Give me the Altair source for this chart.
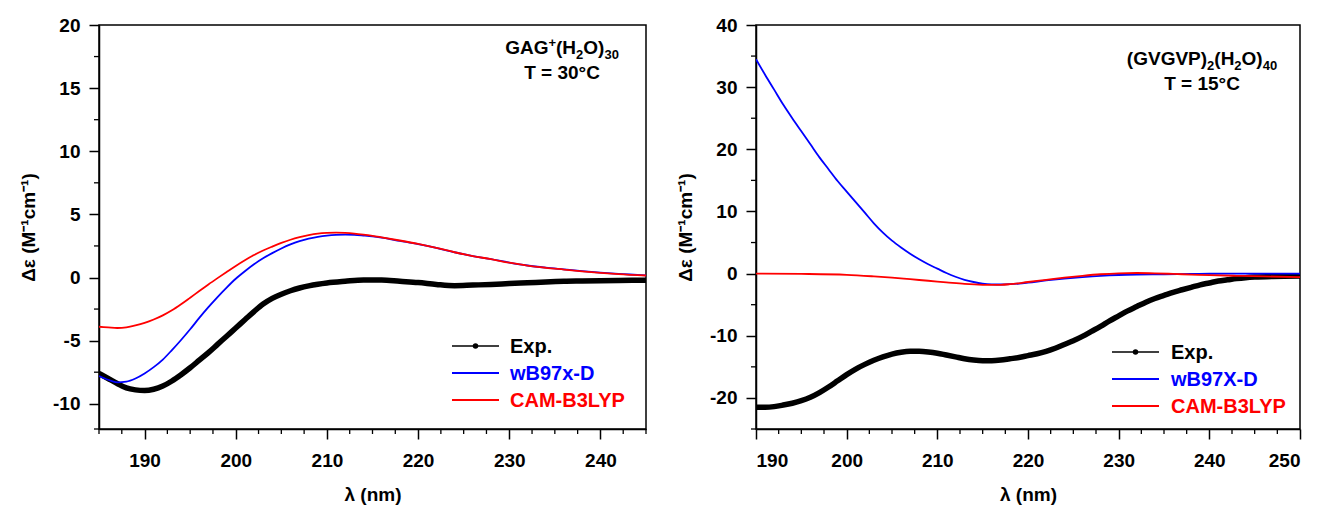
import altair as alt
import pandas as pd

# ---------------- Left panel: GAG+(H2O)30, T = 30°C ----------------
L_exp_x = [185, 186, 187, 188, 189, 190, 191, 192, 193, 194, 195, 196, 197, 198, 199, 200,
           201, 202, 203, 204, 205, 206, 207, 208, 209, 210, 212, 214, 216, 218, 220, 222,
           224, 226, 228, 230, 232, 234, 236, 238, 240, 242, 245]
L_exp_y = [-7.6, -8.0, -8.4, -8.75, -8.9, -8.95, -8.85, -8.6, -8.2, -7.7, -7.15, -6.55, -5.95,
           -5.3, -4.65, -4.0, -3.35, -2.7, -2.1, -1.65, -1.32, -1.05, -0.83, -0.66, -0.53, -0.43,
           -0.3, -0.2, -0.2, -0.3, -0.4, -0.55, -0.65, -0.6, -0.55, -0.48, -0.42, -0.35, -0.3,
           -0.28, -0.26, -0.24, -0.21]

L_wb_x = [185, 186, 187, 188, 189, 190, 191, 192, 193, 194, 195, 196, 197, 198, 199, 200,
          201, 202, 203, 204, 205, 206, 207, 208, 209, 210, 211, 212, 213, 214, 215, 216,
          218, 220, 222, 224, 226, 228, 230, 232, 234, 236, 238, 240, 242, 245]
L_wb_y = [-7.8, -8.1, -8.3, -8.25, -8.0, -7.6, -7.1, -6.5, -5.75, -4.95, -4.1, -3.2, -2.35,
          -1.55, -0.8, -0.1, 0.5, 1.05, 1.52, 1.93, 2.3, 2.62, 2.88, 3.08, 3.22, 3.32, 3.38,
          3.4, 3.38, 3.32, 3.25, 3.15, 2.9, 2.65, 2.35, 2.0, 1.7, 1.45, 1.18, 0.95, 0.78,
          0.64, 0.5, 0.38, 0.28, 0.17]

L_cam_x = [185, 186, 187, 188, 189, 190, 191, 192, 193, 194, 195, 196, 197, 198, 199, 200,
           201, 202, 203, 204, 205, 206, 207, 208, 209, 210, 211, 212, 213, 214, 215, 216,
           218, 220, 222, 224, 226, 228, 230, 232, 234, 236, 238, 240, 242, 245]
L_cam_y = [-3.9, -3.95, -4.0, -3.95, -3.8, -3.6, -3.33, -3.0, -2.6, -2.12, -1.6, -1.07, -0.55,
           -0.05, 0.44, 0.92, 1.37, 1.78, 2.14, 2.45, 2.74, 2.99, 3.19, 3.35, 3.47, 3.53, 3.55,
           3.53, 3.48, 3.4, 3.3, 3.18, 2.93, 2.66, 2.35, 2.0, 1.7, 1.45, 1.17, 0.94, 0.77,
           0.63, 0.49, 0.37, 0.27, 0.16]

# ---------------- Right panel: (GVGVP)2(H2O)40, T = 15°C ----------------
R_exp_x = [190, 191, 192, 193, 194, 195, 196, 197, 198, 199, 200, 201, 202, 203, 204, 205,
           206, 207, 208, 209, 210, 211, 212, 213, 214, 215, 216, 217, 218, 219, 220, 221,
           222, 223, 224, 225, 226, 227, 228, 229, 230, 231, 232, 233, 234, 235, 236, 237,
           238, 239, 240, 241, 242, 243, 244, 245, 247, 250]
R_exp_y = [-21.5, -21.5, -21.4, -21.15, -20.85, -20.45, -19.9, -19.15, -18.25, -17.25, -16.25,
           -15.35, -14.6, -13.95, -13.4, -12.95, -12.65, -12.5, -12.5, -12.6, -12.8, -13.1,
           -13.4, -13.7, -13.9, -14.0, -14.0, -13.9, -13.7, -13.5, -13.2, -12.9, -12.5, -12.0,
           -11.4, -10.8, -10.1, -9.3, -8.5, -7.6, -6.8, -6.0, -5.3, -4.6, -4.0, -3.5, -3.0,
           -2.6, -2.2, -1.8, -1.5, -1.2, -1.0, -0.8, -0.65, -0.55, -0.45, -0.4]

R_wb_x = [190, 191, 192, 193, 194, 195, 196, 197, 198, 199, 200, 201, 202, 203, 204, 205,
          206, 207, 208, 209, 210, 211, 212, 213, 214, 215, 216, 217, 218, 219, 220, 222,
          224, 226, 228, 230, 232, 235, 238, 240, 245, 250]
R_wb_y = [34.5, 32.0, 29.6, 27.2, 25.0, 22.9, 20.8, 18.7, 16.8, 14.9, 13.2, 11.5, 9.8, 8.1,
          6.6, 5.3, 4.2, 3.2, 2.3, 1.5, 0.8, 0.1, -0.5, -1.0, -1.35, -1.6, -1.72, -1.75, -1.7,
          -1.6, -1.45, -1.1, -0.8, -0.55, -0.35, -0.22, -0.15, -0.1, -0.05, -0.02, 0.0, 0.0]

R_cam_x = [190, 195, 200, 203, 205, 207, 209, 211, 213, 215, 216, 217, 218, 220, 222, 224,
           226, 228, 230, 232, 234, 236, 238, 240, 243, 246, 250]
R_cam_y = [0.0, -0.05, -0.2, -0.45, -0.65, -0.9, -1.15, -1.4, -1.65, -1.8, -1.82, -1.8, -1.7,
           -1.35, -1.0, -0.65, -0.35, -0.1, 0.05, 0.1, 0.05, -0.05, -0.15, -0.25, -0.35,
           -0.45, -0.55]

# axes
L_xdomain = [185, 245]
L_ydomain = [-12, 20]
L_xticks = [190, 200, 210, 220, 230, 240]
L_xminor = [185, 187.5, 192.5, 195, 197.5, 202.5, 205, 207.5, 212.5, 215, 217.5, 222.5, 225,
            227.5, 232.5, 235, 237.5, 242.5, 245]
L_yticks = [-10, -5, 0, 5, 10, 15, 20]
L_yminor = [-12, -7.5, -2.5, 2.5, 7.5, 12.5, 17.5]

R_xdomain = [190, 250]
R_ydomain = [-25, 40]
R_xticks = [190, 200, 210, 220, 230, 240, 250]
R_xminor = [192.5, 195, 197.5, 202.5, 205, 207.5, 212.5, 215, 217.5, 222.5, 225, 227.5,
            232.5, 235, 237.5, 242.5, 245, 247.5]
R_yticks = [-20, -10, 0, 10, 20, 30, 40]
R_yminor = [-25, -15, -5, 5, 15, 25, 35]

legend_labels_L = ["Exp.", "wB97x-D", "CAM-B3LYP"]
legend_labels_R = ["Exp.", "wB97X-D", "CAM-B3LYP"]
colors = ["#000000", "#0000FF", "#FF0000"]

# annotation text pieces: (text, kind) with kind n = normal, sub, sup
L_title1 = [("GAG", "n"), ("+", "sup"), ("(H", "n"), ("2", "sub"), ("O)", "n"), ("30", "sub")]
L_title2 = "T = 30°C"
R_title1 = [("(GVGVP)", "n"), ("2", "sub"), ("(H", "n"), ("2", "sub"), ("O)", "n"), ("40", "sub")]
R_title2 = "T = 15°C"

FONT = "Liberation Sans"
X_TITLE = "λ (nm)"
Y_TITLE = "Δε (M⁻¹cm⁻¹)"
LABEL_EXPR = "'' + datum.value"

# Arial/Liberation Sans Bold advance widths (em) for layout of the rich annotation text
CHAR_W = {"G": 0.778, "A": 0.722, "(": 0.333, ")": 0.333, "H": 0.722, "O": 0.778,
          "V": 0.667, "P": 0.667, "+": 0.584}
FS_MAIN, FS_SMALL = 19, 13


def text_width(s, fs):
    return sum(CHAR_W.get(c, 0.556) for c in s) * fs


def rich_text(pieces, cx, base):
    sizes = [FS_MAIN if k == "n" else FS_SMALL for _, k in pieces]
    widths = [text_width(t, fs) for (t, _), fs in zip(pieces, sizes)]
    x = cx - sum(widths) / 2
    out = []
    for (t, k), fs, w in zip(pieces, sizes, widths):
        dy = {"n": 0, "sub": 5, "sup": -7}[k]
        out.append(alt.Chart(pd.DataFrame({"t": [t]})).mark_text(
            font=FONT, fontSize=fs, fontWeight="bold", color="black", align="left",
            baseline="alphabetic").encode(x=alt.value(x), y=alt.value(base + dy), text="t:N"))
        x += w
    return out


def panel(W, H, xdom, ydom, xticks, xminor, yticks, yminor,
          exp, wb, cam, labels, title1, title2, ann, leg):
    xs = alt.Scale(domain=xdom, nice=False, zero=False)
    ys = alt.Scale(domain=ydom, nice=False, zero=False)
    xax = alt.Axis(values=xticks, labelExpr=LABEL_EXPR, title=X_TITLE)
    yax = alt.Axis(values=yticks, labelExpr=LABEL_EXPR, title=Y_TITLE)

    def line(xv, yv, color, sw):
        df = pd.DataFrame({"wl": xv, "de": yv})
        return alt.Chart(df).mark_line(color=color, strokeWidth=sw, interpolate="monotone",
                                       clip=True).encode(
            x=alt.X("wl:Q", scale=xs, axis=xax),
            y=alt.Y("de:Q", scale=ys, axis=yax),
        )

    layers = [
        line(exp[0], exp[1], colors[0], 5.5),
        line(wb[0], wb[1], colors[1], 1.8),
        line(cam[0], cam[1], colors[2], 1.8),
    ]
    # minor ticks
    layers.append(alt.Chart(pd.DataFrame({"wl": xminor})).mark_rule(color="black", strokeWidth=1.3).encode(
        x=alt.X("wl:Q", scale=xs, axis=xax), y=alt.value(H), y2=alt.value(H + 5)))
    layers.append(alt.Chart(pd.DataFrame({"de": yminor})).mark_rule(color="black", strokeWidth=1.3).encode(
        y=alt.Y("de:Q", scale=ys, axis=yax), x=alt.value(0), x2=alt.value(-5)))
    # annotations
    ax, ay1, ay2 = ann
    layers += rich_text(title1, ax, ay1)
    layers.append(alt.Chart(pd.DataFrame({"t": [title2]})).mark_text(
        font=FONT, fontSize=FS_MAIN, fontWeight="bold", color="black", align="center",
        baseline="alphabetic").encode(x=alt.value(ax), y=alt.value(ay2), text="t:N"))
    # legend
    lx0, lx1, ly0, dy, tx = leg
    for i, lab in enumerate(labels):
        yy = ly0 + i * dy
        layers.append(alt.Chart(pd.DataFrame({"t": [lab]})).mark_rule(
            color=colors[i], strokeWidth=1.8 if i else 1.3).encode(
            x=alt.value(lx0), x2=alt.value(lx1), y=alt.value(yy)))
        if i == 0:
            layers.append(alt.Chart(pd.DataFrame({"t": [lab]})).mark_point(
                filled=True, color="black", size=30, opacity=1).encode(
                x=alt.value((lx0 + lx1) / 2), y=alt.value(yy)))
        layers.append(alt.Chart(pd.DataFrame({"t": [lab]})).mark_text(
            font=FONT, fontSize=20, fontWeight="bold", color=colors[i], align="left",
            baseline="middle").encode(x=alt.value(tx), y=alt.value(yy + 1), text="t:N"))
    return alt.layer(*layers).properties(width=W, height=H)


H = 404
left = panel(547, H, L_xdomain, L_ydomain, L_xticks, L_xminor, L_yticks, L_yminor,
             (L_exp_x, L_exp_y), (L_wb_x, L_wb_y), (L_cam_x, L_cam_y), legend_labels_L,
             L_title1, L_title2, (463, 29, 54), (353, 400, 321, 27, 411))
right = panel(544, H, R_xdomain, R_ydomain, R_xticks, R_xminor, R_yticks, R_yminor,
              (R_exp_x, R_exp_y), (R_wb_x, R_wb_y), (R_cam_x, R_cam_y), legend_labels_R,
              R_title1, R_title2, (446, 40, 65), (356, 403, 327, 27, 415))

chart = alt.hconcat(left, right, spacing=27).properties(
    padding={"left": 18, "top": 15, "right": 1, "bottom": 2},
    background="white",
).configure_view(stroke="black", strokeWidth=1.5).configure_axis(
    grid=False, domainColor="black", domainWidth=1.5, tickColor="black", tickWidth=1.5,
    tickSize=10, labelFont=FONT, labelFontSize=19, labelFontWeight="bold", labelColor="black",
    titleFont=FONT, titleFontSize=19, titleFontWeight="bold", titleColor="black",
).configure_axisX(labelPadding=12, titlePadding=15).configure_axisY(
    labelPadding=9, titlePadding=14)

chart.save("out.html", embed_options={"renderer": "svg", "actions": False})
